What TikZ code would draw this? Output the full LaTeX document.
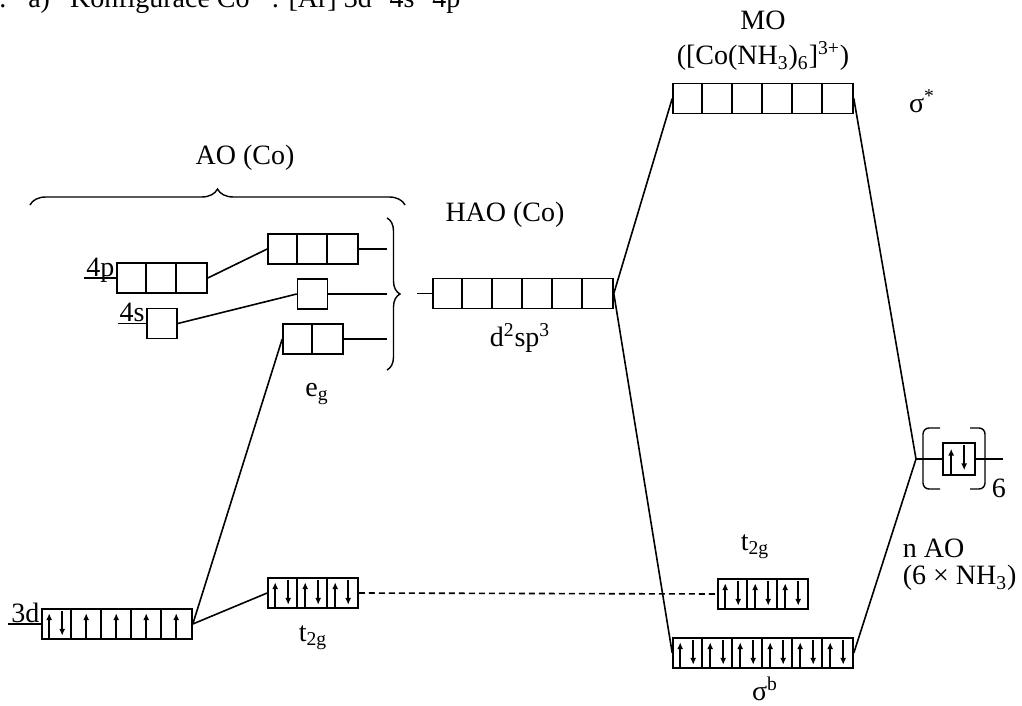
\documentclass[tikz,border=0pt]{standalone}
\usepackage{fontspec}
\setmainfont{Liberation Serif}
\usetikzlibrary{arrows.meta,calc,decorations.pathreplacing}

% inner walls of an orbital row: #1 node, #2 number of walls
\newcommand\cellwalls[2]{%
  \foreach \i in {1,...,#2}{\draw ($(#1.north west)+(\i*30,0)$) -- ++(0,30);}}
% paired electrons in cell #2 of row #1
\newcommand\elpair[2]{%
  \draw[el] ($(#1.south west)+({(#2-1)*30+8},-1.5)$) -- ++(0,-25);
  \draw[el] ($(#1.north west)+({(#2-1)*30+21},2.5)$) -- ++(0,25);}
% single electron in cell #2 of row #1
\newcommand\elup[2]{%
  \draw[el] ($(#1.south west)+({(#2-1)*30+15},-1.5)$) -- ++(0,-25);}

\begin{document}
\begin{tikzpicture}[x=0.5pt,y=-0.5pt,line width=0.8pt,
  font=\fontsize{14}{16.8}\selectfont,
  orb/.style={draw,inner sep=0pt,minimum height=15pt,minimum width=#1*15pt},
  el/.style={line width=0.75pt,-{Latex[length=3.4pt,width=3pt]}},
  lbl/.style={inner sep=0pt},
  levelline/.style={line width=0.7pt},
  bracestyle/.style={decorate,decoration={brace,amplitude=#1}}]

\useasboundingbox (0,0) rectangle (1022,706);

% heading line
\node[lbl,anchor=base west] (head) at (-15.5,8)
  {2.\hspace{11pt}a)\hspace{10pt}Konfigurace Co\textsuperscript{3+}: [Ar] 3d\textsuperscript{6} 4s\textsuperscript{0} 4p\textsuperscript{0}};

% atomic orbitals of Co
\node[orb=3] (p4) at (162,278) {};
\node[orb=1] (s4) at (162,323.5) {};
\node[orb=5] (d3) at (117,624) {};
\cellwalls{p4}{2}
\cellwalls{d3}{4}
\elpair{d3}{1}
\foreach \c in {2,...,5}{\elup{d3}{\c}}

\node[lbl,anchor=base east] (l4p) at ($(p4.west)+(-1,-2)$) {4p};
\node[lbl,anchor=base east] (l4s) at ($(s4.west)+(-1,-2)$) {4s};
\node[lbl,anchor=base east] (l3d) at ($(d3.west)+(-1,-2)$) {3d};
\draw[levelline] ($(l4p.base west)+(-2,2)$) -- (p4.west);
\draw[levelline] ($(l4s.base west)+(-1,2)$) -- (s4.west);
\draw[levelline] ($(l3d.base west)+(-3,2)$) -- (d3.west);

% split orbitals
\node[orb=3] (hp) at (313,249) {};
\node[orb=1] (hs) at (312.5,294) {};
\node[orb=2] (eg) at (313,339) {};
\node[orb=3] (t2l) at (313,593) {};
\cellwalls{hp}{2}
\cellwalls{eg}{1}
\cellwalls{t2l}{2}
\foreach \c in {1,2,3}{\elpair{t2l}{\c}}

\draw (p4.east) -- (hp.west);
\draw (s4.east) -- (hs.west);
\draw (d3.east) -- (eg.west);
\draw (d3.east) -- (t2l.west);

\coordinate (bp) at (387,249);
\coordinate (bs) at (387,294);
\coordinate (be) at (387,339);
\draw (hp.east) -- (bp);
\draw (hs.east) -- (bs);
\draw (eg.east) -- (be);

\node[lbl] (teg) at (317,394) {e\textsubscript{g}};
\node[lbl] (tt2l) at (313,638) {t\textsubscript{2g}};

% braces
\coordinate (bt) at (387,218);
\coordinate (bb) at (387,370);
\draw[bracestyle=6.5pt,line width=0.7pt] (bt) -- (bb);
\coordinate (ab1) at (30,205);
\coordinate (ab2) at (405,205);
\draw[bracestyle=8pt,line width=0.7pt] (ab1) -- (ab2);
\node[lbl] (tao) at (245,158) {AO (Co)};

% hybrid orbitals
\node[orb=6] (hao) at (523,293.5) {};
\cellwalls{hao}{5}
\coordinate (hin) at (417,293.5);
\draw (hin) -- (hao.west);
\node[lbl] (thao) at (505,215) {HAO (Co)};
\node[lbl] (thyb) at (520,338) {d\textsuperscript{2}sp\textsuperscript{3}};

% molecular orbitals
\node[orb=6] (mo) at (763,98.5) {};
\node[orb=3] (t2r) at (763,594) {};
\node[orb=6] (sb) at (763,653) {};
\cellwalls{mo}{5}
\cellwalls{t2r}{2}
\cellwalls{sb}{5}
\foreach \c in {1,2,3}{\elpair{t2r}{\c}}
\foreach \c in {1,...,6}{\elpair{sb}{\c}}

\node[lbl] (tmo) at (763,20) {MO};
\node[lbl] (tcx) at (763,56) {([Co(NH\textsubscript{3})\textsubscript{6}]\textsuperscript{3+})};
\node[lbl] (tss) at (922,101) {σ\textsuperscript{*}};
\node[lbl] (tt2r) at (755,547) {t\textsubscript{2g}};
\node[lbl] (tsb) at (765,689) {σ\textsuperscript{b}};

\draw (hao.east) -- (mo.west);
\draw (hao.east) -- (sb.west);
\draw[dash pattern=on 3pt off 2pt] (t2l.east) -- (t2r.west);

% ligand lone pairs
\node[orb=1,minimum width=16pt,minimum height=16pt] (lig) at (959,459) {};
\draw[el] ($(lig.south west)+(9,-2)$) -- ++(0,-25);
\draw[el] ($(lig.north west)+(22,3)$) -- ++(0,25);
\coordinate (lm) at (916,459);
\coordinate (le) at (1003,459);
\draw (mo.east) -- (lm);
\draw (sb.east) -- (lm);
\draw (lm) -- (lig.west);
\draw (lig.east) -- (le);
\draw[line width=0.7pt,rounded corners=3pt] (940,428) -- (923,428) -- (923,489) -- (940,489);
\draw[line width=0.7pt,rounded corners=3pt] (970,428) -- (985,428) -- (985,489) -- (970,489);
\node[lbl,anchor=west] (tsix) at (991,488) {6};
\node[lbl,anchor=west] (tnao) at (902,548) {n AO};
\node[lbl,anchor=west] (tnh) at (902,578) {(6 × NH\textsubscript{3})};

\end{tikzpicture}
\end{document}
